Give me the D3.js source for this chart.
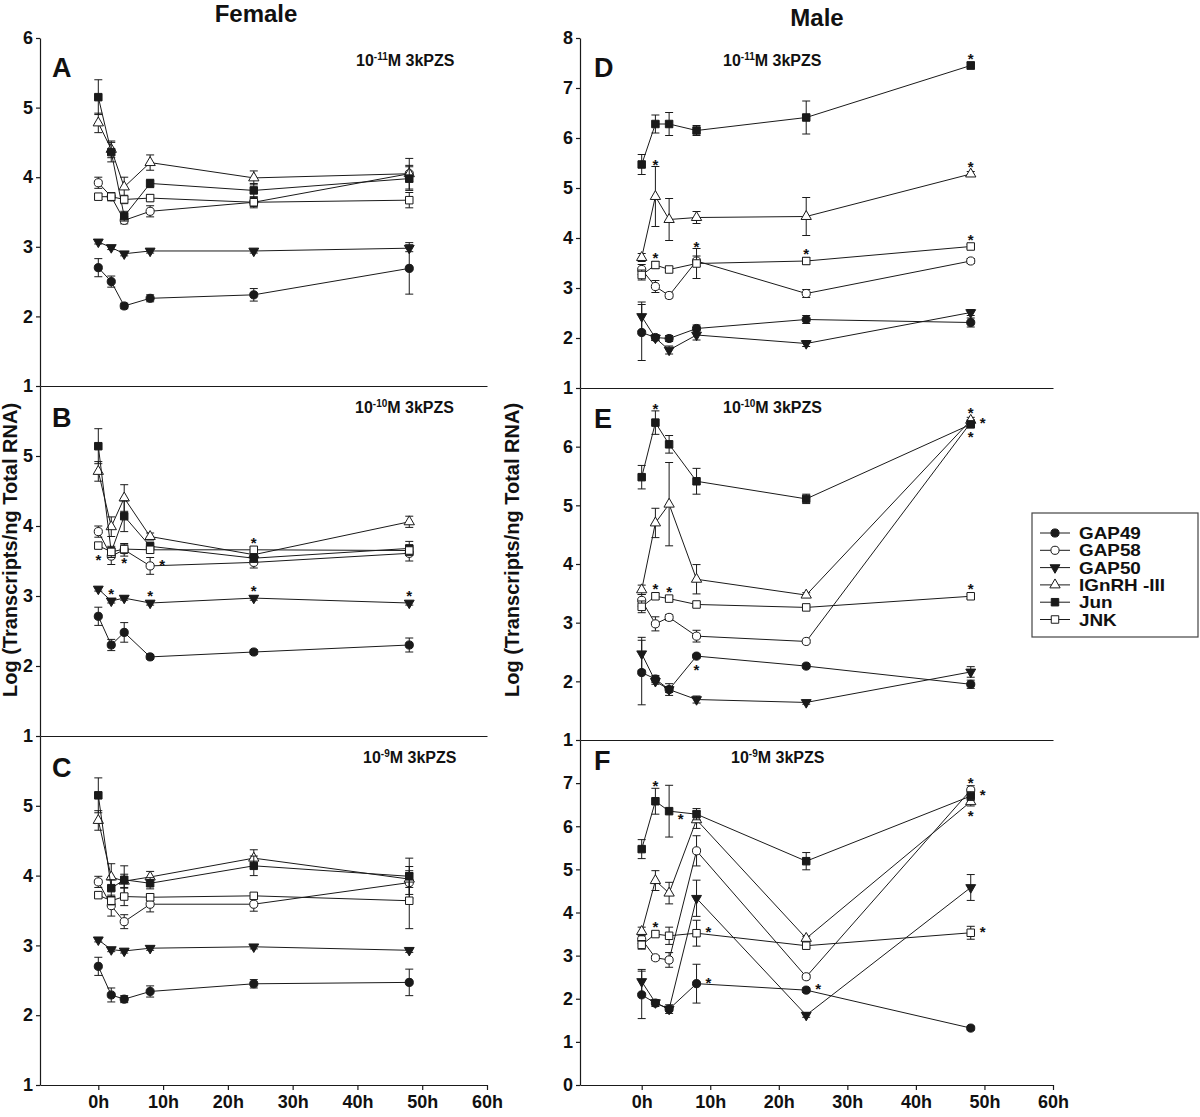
<!DOCTYPE html>
<html>
<head>
<meta charset="utf-8">
<script src="https://cdn.jsdelivr.net/npm/d3@7"></script>
<style>
  body { margin: 0; background: #fff; }
  svg text { font-family: "Liberation Sans", Arial, Helvetica, sans-serif; font-weight: bold; fill: #111; }
</style>
</head>
<body>
<svg></svg>
<script>
//--Data
const hours = [0, 2, 4, 8, 24, 48];
const seriesNames = ["GAP49", "GAP58", "GAP50", "IGnRH -III", "Jun", "JNK"];
const xTickHours = [0, 10, 20, 30, 40, 50, 60];

// rows follow seriesNames order; columns follow hours
const meanA = [
  [2.70, 2.50, 2.15, 2.26, 2.31, 2.69],
  [3.92, 3.72, 3.38, 3.51, 3.64, 4.05],
  [3.07, 2.99, 2.90, 2.94, 2.94, 2.98],
  [4.78, 4.40, 3.86, 4.21, 3.99, 4.05],
  [5.15, 4.36, 3.44, 3.91, 3.81, 3.98],
  [3.72, 3.72, 3.68, 3.70, 3.64, 3.67]
];
const errA = [
  [0.13, 0.08, 0.04, 0.05, 0.09, 0.37],
  [0.08, 0.06, 0.05, 0.08, 0.08, 0.22],
  [0.03, 0.03, 0.03, 0.03, 0.03, 0.05],
  [0.14, 0.12, 0.14, 0.11, 0.10, 0.12],
  [0.25, 0.14, 0.07, 0.06, 0.10, 0.17],
  [0.04, 0.05, 0.06, 0.05, 0.06, 0.11]
];
const meanB = [
  [2.71, 2.30, 2.48, 2.13, 2.20, 2.30],
  [3.92, 3.57, 3.66, 3.43, 3.48, 3.61],
  [3.10, 2.93, 2.97, 2.90, 2.97, 2.90],
  [4.78, 3.99, 4.40, 3.85, 3.59, 4.06],
  [5.14, 3.63, 4.14, 3.71, 3.54, 3.68],
  [3.72, 3.63, 3.67, 3.66, 3.66, 3.65]
];
const errB = [
  [0.13, 0.08, 0.14, 0.03, 0.03, 0.10],
  [0.08, 0.12, 0.09, 0.12, 0.08, 0.11],
  [0.03, 0.03, 0.03, 0.03, 0.03, 0.03],
  [0.14, 0.14, 0.19, 0.05, 0.05, 0.08],
  [0.25, 0.08, 0.22, 0.06, 0.06, 0.10],
  [0.04, 0.05, 0.06, 0.05, 0.04, 0.06]
];
const meanC = [
  [2.70, 2.29, 2.23, 2.34, 2.45, 2.47],
  [3.91, 3.57, 3.34, 3.59, 3.59, 3.90],
  [3.08, 2.94, 2.92, 2.96, 2.98, 2.93],
  [4.79, 3.98, 3.92, 3.98, 4.25, 3.95],
  [5.15, 3.82, 3.94, 3.89, 4.14, 3.99],
  [3.72, 3.64, 3.70, 3.69, 3.71, 3.64]
];
const errC = [
  [0.13, 0.10, 0.05, 0.08, 0.06, 0.19],
  [0.08, 0.15, 0.10, 0.11, 0.10, 0.23],
  [0.03, 0.03, 0.03, 0.03, 0.03, 0.03],
  [0.14, 0.19, 0.10, 0.08, 0.12, 0.12],
  [0.25, 0.12, 0.20, 0.08, 0.14, 0.26],
  [0.04, 0.06, 0.13, 0.05, 0.04, 0.40]
];
const meanD = [
  [2.11, 2.01, 1.99, 2.19, 2.37, 2.31],
  [3.37, 3.03, 2.85, 3.54, 2.89, 3.54],
  [2.43, 2.00, 1.76, 2.06, 1.89, 2.51],
  [3.61, 4.83, 4.37, 4.41, 4.43, 5.28],
  [5.47, 6.28, 6.28, 6.15, 6.41, 7.45],
  [3.26, 3.46, 3.37, 3.49, 3.54, 3.83]
];
const errD = [
  [0.56, 0.06, 0.06, 0.07, 0.08, 0.09],
  [0.10, 0.12, 0.05, 0.10, 0.08, 0.05],
  [0.29, 0.05, 0.08, 0.10, 0.06, 0.06],
  [0.08, 0.60, 0.42, 0.12, 0.38, 0.05],
  [0.20, 0.18, 0.23, 0.10, 0.33, 0.07],
  [0.10, 0.07, 0.05, 0.30, 0.07, 0.04]
];
const meanE = [
  [2.15, 2.04, 1.86, 2.43, 2.26, 1.95],
  [3.38, 2.98, 3.09, 2.77, 2.68, 6.41],
  [2.47, 2.00, 1.86, 1.69, 1.64, 2.16],
  [3.56, 4.70, 5.02, 3.74, 3.47, 6.45],
  [5.48, 6.41, 6.04, 5.41, 5.11, 6.38],
  [3.27, 3.45, 3.41, 3.31, 3.26, 3.45]
];
const errE = [
  [0.55, 0.06, 0.10, 0.03, 0.03, 0.07],
  [0.10, 0.12, 0.05, 0.10, 0.03, 0.05],
  [0.28, 0.05, 0.05, 0.06, 0.03, 0.09],
  [0.08, 0.25, 0.71, 0.25, 0.04, 0.05],
  [0.20, 0.20, 0.15, 0.22, 0.08, 0.05],
  [0.10, 0.05, 0.04, 0.04, 0.03, 0.04]
];
const meanF = [
  [2.09, 1.90, 1.76, 2.35, 2.20, 1.32],
  [3.38, 2.95, 2.90, 5.43, 2.51, 6.84],
  [2.40, 1.91, 1.76, 4.33, 1.62, 4.58],
  [3.56, 4.74, 4.45, 6.15, 3.40, 6.57],
  [5.47, 6.58, 6.35, 6.28, 5.19, 6.70],
  [3.25, 3.50, 3.46, 3.52, 3.23, 3.53]
];
const errF = [
  [0.55, 0.08, 0.10, 0.45, 0.05, 0.04],
  [0.10, 0.05, 0.17, 0.35, 0.05, 0.10],
  [0.28, 0.05, 0.05, 0.42, 0.05, 0.30],
  [0.10, 0.23, 0.25, 0.20, 0.05, 0.10],
  [0.22, 0.30, 0.60, 0.13, 0.20, 0.10],
  [0.10, 0.05, 0.20, 0.30, 0.05, 0.15]
];

// significance marks: [series index, hour index, side]
const starsA = [];
const starsB = [[5, 0, "below"], [2, 1, "above"], [5, 2, "below"], [1, 3, "right"],
                [2, 3, "above"], [5, 4, "above"], [2, 4, "above"], [2, 5, "above"]];
const starsC = [];
const starsD = [[4, 5, "above"], [3, 1, "above"], [3, 5, "above"], [5, 1, "above"],
                [5, 3, "above"], [5, 4, "above"], [5, 5, "above"]];
const starsE = [[4, 1, "above"], [5, 1, "above"], [5, 2, "above"], [0, 3, "below"],
                [3, 5, "above"], [4, 5, "right"], [1, 5, "below"], [5, 5, "above"]];
const starsF = [[4, 1, "above"], [3, 3, "left"], [5, 1, "above"], [5, 3, "right"],
                [0, 3, "right"], [0, 4, "right"], [1, 5, "above"], [4, 5, "right"],
                [3, 5, "below"], [5, 5, "right"]];

//--Layout
const W = 1200, H = 1117;
const ink = "#1a1a1a";
const columns = [
  { x: [40, 487], labelX: 17 },
  { x: [580, 1053], labelX: 519 }
];
const panels = [
  { key: "A", col: 0, mean: meanA, err: errA, stars: starsA, exp: "-11", y: [386, 38], dom: [1, 6], ticks: [1, 2, 3, 4, 5, 6], conc: [356, 66], letter: [52, 77] },
  { key: "B", col: 0, mean: meanB, err: errB, stars: starsB, exp: "-10", y: [736, 386], dom: [1, 6], ticks: [1, 2, 3, 4, 5], conc: [355, 413], letter: [52, 427] },
  { key: "C", col: 0, mean: meanC, err: errC, stars: starsC, exp: "-9", y: [1085, 736], dom: [1, 6], ticks: [1, 2, 3, 4, 5], conc: [363, 763], letter: [52, 777], bottom: true },
  { key: "D", col: 1, mean: meanD, err: errD, stars: starsD, exp: "-11", y: [388, 38], dom: [1, 8], ticks: [1, 2, 3, 4, 5, 6, 7, 8], conc: [723, 66], letter: [594, 77] },
  { key: "E", col: 1, mean: meanE, err: errE, stars: starsE, exp: "-10", y: [740, 388], dom: [1, 7], ticks: [1, 2, 3, 4, 5, 6], conc: [723, 413], letter: [594, 428] },
  { key: "F", col: 1, mean: meanF, err: errF, stars: starsF, exp: "-9", y: [1085, 740], dom: [0, 8], ticks: [0, 1, 2, 3, 4, 5, 6, 7], conc: [731, 763], letter: [594, 770], bottom: true }
];

// marker per series: symbol type, filled, rotation
const markers = [
  { type: d3.symbolCircle, size: 52, fill: true, rot: 0 },
  { type: d3.symbolCircle, size: 52, fill: false, rot: 0 },
  { type: d3.symbolTriangle, size: 42, fill: true, rot: 180 },
  { type: d3.symbolTriangle, size: 46, fill: false, rot: 0 },
  { type: d3.symbolSquare, size: 56, fill: true, rot: 0 },
  { type: d3.symbolSquare, size: 56, fill: false, rot: 0 }
];

let root = d3.select("svg")
  .attr("width", W)
  .attr("height", H)
  .style("background-color", "#FFFFFF");

function drawMarker(sel, m) {
  sel.append("path")
    .attr("d", d3.symbol().type(m.type).size(m.size)())
    .attr("transform", d => "translate(" + d[0] + "," + d[1] + ") rotate(" + m.rot + ")")
    .attr("fill", m.fill ? ink : "#FFFFFF")
    .attr("stroke", ink)
    .attr("stroke-width", 1);
}

function styleAxis(g) {
  g.attr("font-size", null).attr("font-family", null);
  g.selectAll("path, line").attr("stroke", ink).attr("stroke-width", 1.2);
  g.selectAll("text").style("font-size", "18px");
}

//--Panels
panels.forEach(p => {
  const col = columns[p.col];
  const x = d3.scaleLinear().domain([-9, 60]).range(col.x);
  const y = d3.scaleLinear().domain(p.dom).range(p.y);
  const g = root.append("g").classed("panel-" + p.key, true);

  // y axis
  g.append("g")
    .attr("transform", "translate(" + col.x[0] + ",0)")
    .call(d3.axisLeft(y).tickValues(p.ticks).tickSize(4).tickSizeOuter(0).tickPadding(3).tickFormat(d3.format("d")))
    .call(styleAxis);

  // x axis
  const xAxis = d3.axisBottom(x).tickValues(p.bottom ? xTickHours : []).tickSize(5).tickSizeOuter(0).tickPadding(5).tickFormat(d => d + "h");
  g.append("g")
    .attr("transform", "translate(0," + p.y[0] + ")")
    .call(xAxis)
    .call(styleAxis);

  // series
  p.mean.forEach((vals, s) => {
    const pts = vals.map((v, i) => [x(hours[i]), y(v), p.err[s][i]]);
    const sg = g.append("g").classed("series-" + s, true);
    const bars = sg.selectAll(".err").data(vals).enter().append("g").classed("err", true);
    bars.append("line")
      .attr("x1", (v, i) => x(hours[i])).attr("x2", (v, i) => x(hours[i]))
      .attr("y1", (v, i) => y(v + p.err[s][i])).attr("y2", (v, i) => y(v - p.err[s][i]));
    bars.append("line")
      .attr("x1", (v, i) => x(hours[i]) - 4).attr("x2", (v, i) => x(hours[i]) + 4)
      .attr("y1", (v, i) => y(v + p.err[s][i])).attr("y2", (v, i) => y(v + p.err[s][i]));
    bars.append("line")
      .attr("x1", (v, i) => x(hours[i]) - 4).attr("x2", (v, i) => x(hours[i]) + 4)
      .attr("y1", (v, i) => y(v - p.err[s][i])).attr("y2", (v, i) => y(v - p.err[s][i]));
    bars.selectAll("line").attr("stroke", ink).attr("stroke-width", 1);

    sg.append("path")
      .datum(pts)
      .attr("d", d3.line())
      .attr("fill", "none")
      .attr("stroke", ink)
      .attr("stroke-width", 1);

    sg.selectAll(".mk").data(pts).enter().append("g").classed("mk", true)
      .call(sel => drawMarker(sel, markers[s]));
  });

  // significance stars
  g.selectAll(".star").data(p.stars).enter().append("text")
    .attr("x", d => {
      const cx = x(hours[d[1]]);
      return d[2] === "right" ? cx + 9 : d[2] === "left" ? cx - 13 : cx;
    })
    .attr("y", d => {
      const v = p.mean[d[0]][d[1]], e = p.err[d[0]][d[1]];
      const cy = y(v);
      if (d[2] === "above") return Math.min(y(v + e), cy - 5) - 5 + 8;
      if (d[2] === "below") return Math.max(y(v - e), cy + 5) + 6 + 8;
      return cy - 4 + 8;
    })
    .attr("text-anchor", d => d[2] === "right" ? "start" : d[2] === "left" ? "end" : "middle")
    .style("font-size", "15px")
    .text("*");

  // panel letter and concentration
  g.append("text")
    .attr("x", p.letter[0]).attr("y", p.letter[1])
    .style("font-size", "27px")
    .text(p.key);
  const conc = g.append("text")
    .attr("x", p.conc[0]).attr("y", p.conc[1])
    .style("font-size", "16px");
  conc.append("tspan").text("10");
  conc.append("tspan").attr("dy", -6).style("font-size", "10px").text(p.exp);
  conc.append("tspan").attr("dy", 6).text("M 3kPZS");
});

//--Column titles and axis labels
root.append("text").attr("x", 256).attr("y", 22).attr("text-anchor", "middle")
  .style("font-size", "24px").text("Female");
root.append("text").attr("x", 817).attr("y", 26).attr("text-anchor", "middle")
  .style("font-size", "24px").text("Male");
columns.forEach(c => {
  root.append("text")
    .attr("transform", "translate(" + c.labelX + ",550) rotate(-90)")
    .attr("text-anchor", "middle")
    .style("font-size", "20px")
    .text("Log (Transcripts/ng Total RNA)");
});

//--Legend
const legend = root.append("g").attr("transform", "translate(1032,513)");
legend.append("rect")
  .attr("width", 166).attr("height", 124)
  .attr("fill", "#FFFFFF").attr("stroke", "#444").attr("stroke-width", 1.2);
const rows = legend.selectAll(".row").data(seriesNames).enter().append("g")
  .attr("transform", (d, i) => "translate(0," + (20 + i * 17.3) + ")");
rows.append("line").attr("x1", 8).attr("x2", 38).attr("stroke", ink).attr("stroke-width", 1);
rows.each(function (d, i) {
  d3.select(this).append("g").datum([23, 0]).call(sel => drawMarker(sel, markers[i]));
});
rows.append("text")
  .attr("transform", "translate(47,6) scale(1.18,1)")
  .style("font-size", "16px")
  .text(d => d);
</script>
</body>
</html>
